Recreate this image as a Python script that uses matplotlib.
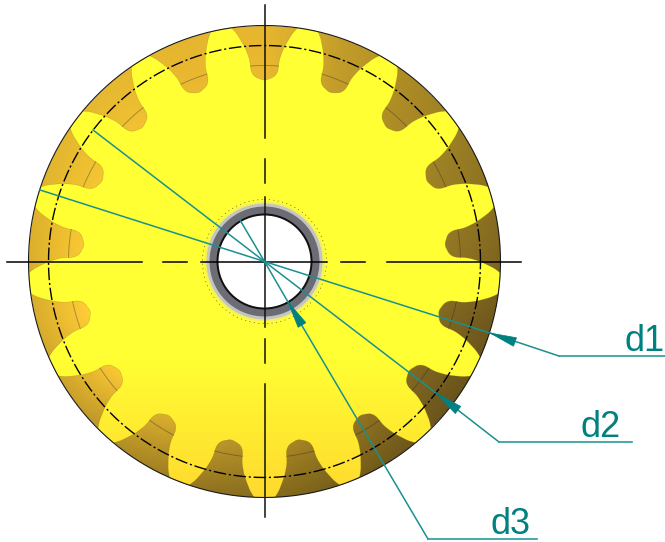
import numpy as np
import matplotlib
matplotlib.use("Agg")
import matplotlib.pyplot as plt
from matplotlib.colors import LinearSegmentedColormap
from matplotlib.patches import Circle, Polygon

# Gear
n_teeth = 17
center = (264.5, 261.5)
r_tip = 236
r_pitch = 216
r_root_line = 196
# Tooth gap outline: radius -> half width
gap_r = [181, 183, 185, 188, 192, 196, 203, 210, 216, 224, 230, 236]
gap_hw = [0, 5.5, 9.5, 12, 13.6, 14, 15, 17.5, 20, 24.5, 28, 33]

# Flank colour going round the gear (degrees, colour)
shade_deg = [0, 26, 47, 68, 90, 111, 132, 153, 175, 196, 217, 238, 259, 280, 302, 323, 344, 360]
shade_col = ["#8C7022", "#9A7E24", "#A88824", "#BC9828", "#E2B22E", "#E2B22E", "#E8BA30",
             "#ECBE30", "#F0C030", "#F8C634", "#F2C032", "#D2A82C", "#B49028", "#A08022",
             "#8C6F20", "#7E6420", "#7E6420", "#8C7022"]

# Hub rings: radius, colour
hub_r = [60, 58, 55, 48, 46]
hub_col = ["#F2F060", "#C4C4C0", "#6C6C74", "#111111", "#FFFFFF"]

# Centre lines (dash segments, from the picture)
h_dashes = [(7, 142), (163, 187), (201, 327), (341, 365), (387, 521)]
v_dashes = [(5, 138), (159, 183), (197, 327), (339, 363), (384, 517)]

# Leaders: tip of arrow, base of arrow, elbow, end of shelf
teal = "#008080"
leader_names = ["d1", "d2", "d3"]
leader_tip = [(490, 333), (436, 393), (288, 302)]
leader_base = [(515, 342), (458, 410), (302, 325)]
leader_elbow = [(559, 356), (499, 442), (428, 539)]
leader_end = [(665, 356), (632, 442), (537, 539)]
label_xy = [(624, 351), (581, 437), (491, 534)]
extra_ends = [(93, 130), (40, 190), (240, 220)]


def chaikin(pts, rounds=2):
    pts = np.asarray(pts)
    for _ in range(rounds):
        q = 0.75 * pts[:-1] + 0.25 * pts[1:]
        r = 0.25 * pts[:-1] + 0.75 * pts[1:]
        mid = np.empty((len(q) * 2, 2))
        mid[0::2] = q
        mid[1::2] = r
        pts = np.vstack([pts[0], mid, pts[-1]])
    return pts


def polar(rad, deg):
    a = np.radians(deg)
    return center[0] + rad * np.cos(a), center[1] - rad * np.sin(a)


fig = plt.figure(figsize=(6.65, 5.42), dpi=100)
ax = fig.add_axes([0, 0, 1, 1])

# Flanks behind the teeth
cmap_shade = LinearSegmentedColormap.from_list(
    "shade", [(d / 360, c) for d, c in zip(shade_deg, shade_col)])
th = np.linspace(0, 360, 721)
rr = np.linspace(170, r_tip, 34)
T, R = np.meshgrid(th, rr)
tc = 0.5 * (th[:-1] + th[1:])
rc = 0.5 * (rr[:-1] + rr[1:])
TC, RC = np.meshgrid(tc, rc)
rgb = cmap_shade(TC / 360)[..., :3]
strength = 0.14 - 0.12 * np.sin(np.radians(TC))
fall = 1.04 - strength * np.clip((RC - 182) / 54, 0, 1)
rgb = np.clip(rgb * fall[..., None], 0, 1)
X, Y = polar(R, T)
mesh = ax.pcolormesh(X, Y, rgb, shading="flat", rasterized=True, zorder=1)
mesh.set_clip_path(Circle(center, r_tip, transform=ax.transData))

# Yellow body with the gaps cut out
step = 360 / n_teeth
outline = []
gap_angles = [90 + i * step for i in range(n_teeth)]
for g in gap_angles:
    offs = np.degrees(np.arcsin(np.array(gap_hw) / np.array(gap_r)))
    rad = np.r_[np.array(gap_r)[::-1], np.array(gap_r)[1:]]
    ang = np.r_[g - offs[::-1], g + offs[1:]]
    px, py = polar(rad, ang)
    outline.append(chaikin(np.column_stack([px, py])))
    # top land of the tooth up to the next gap
    land = np.linspace(g + offs[-1], g + step - offs[-1], 6)[1:-1]
    px, py = polar(r_tip, land)
    outline.append(np.column_stack([px, py]))
outline = np.vstack(outline)
body = Polygon(outline, closed=True, transform=ax.transData, fc="none", ec="none")
ax.add_patch(body)
cmap_body = LinearSegmentedColormap.from_list(
    "body", [(0, "#FFFF33"), (0.66, "#FFFF33"), (0.92, "#FFD92E"), (1, "#FFD92E")])
grad = np.linspace(0, 1, 542)[:, None]
im = ax.imshow(grad, cmap=cmap_body, extent=[0, 665, 542, 0], aspect="auto", vmin=0, vmax=1, zorder=1.5)
im.set_clip_path(body)
ax.plot(np.r_[outline[:, 0], outline[0, 0]], np.r_[outline[:, 1], outline[0, 1]],
        color="#6B5A10", lw=0.4, alpha=0.3, zorder=1.6)

# Root lines in each gap
for g in gap_angles:
    da = np.degrees(14 / r_root_line)
    a = np.linspace(g - da, g + da, 12)
    px, py = polar(r_root_line, a)
    ax.plot(px, py, color="#222222", lw=0.7, alpha=0.35, zorder=1.7)

# Rim and pitch circle
a = np.linspace(0, 360, 721)
px, py = polar(r_tip, a)
ax.plot(px, py, color="#1A1A1A", lw=0.8, zorder=2)
px, py = polar(r_pitch, a)
ax.plot(px, py, color="black", lw=1.0, dashes=(9, 2, 1.5, 2), zorder=2)

# Hub
for rad, col in zip(hub_r, hub_col):
    ax.add_patch(Circle(center, rad, fc=col, ec="none", zorder=3))
ax.add_patch(Circle(center, 62, fc="none", ec="#333333", lw=0.4, ls=(0, (2, 6)), zorder=3))

# Centre lines
for a0, a1 in h_dashes:
    ax.plot([a0, a1], [center[1], center[1]], color="black", lw=1.1, zorder=4)
for a0, a1 in v_dashes:
    ax.plot([center[0], center[0]], [a0, a1], color="#111111", lw=1.1, zorder=4)

# Leaders
for end in extra_ends:
    ax.plot([center[0], end[0]], [center[1], end[1]], color="#1A9090", lw=1.1, zorder=5)
for name, tip, base, elbow, end, lab in zip(leader_names, leader_tip, leader_base,
                                            leader_elbow, leader_end, label_xy):
    ax.plot([center[0], tip[0], elbow[0]], [center[1], tip[1], elbow[1]],
            color="#1A9090", lw=1.1, zorder=5)
    ax.plot([elbow[0], end[0]], [elbow[1], end[1]], color="#2A9A9A", lw=1.2, zorder=5)
    d = np.array(base, float) - np.array(tip, float)
    n = np.array([-d[1], d[0]]) / np.hypot(*d)
    head = [tip, tuple(np.array(base) + 4.5 * n), tuple(np.array(base) - 4.5 * n)]
    ax.add_patch(Polygon(head, closed=True, fc=teal, ec=teal, lw=0.5, zorder=6))
    ax.text(lab[0], lab[1], name, color=teal, fontsize=26, ha="left", va="baseline",
            family=["Liberation Sans Narrow", "Liberation Sans"], zorder=6)

ax.set_xlim(0, 665)
ax.set_ylim(542, 0)
ax.axis("off")
fig.savefig("out.png", dpi=100)
